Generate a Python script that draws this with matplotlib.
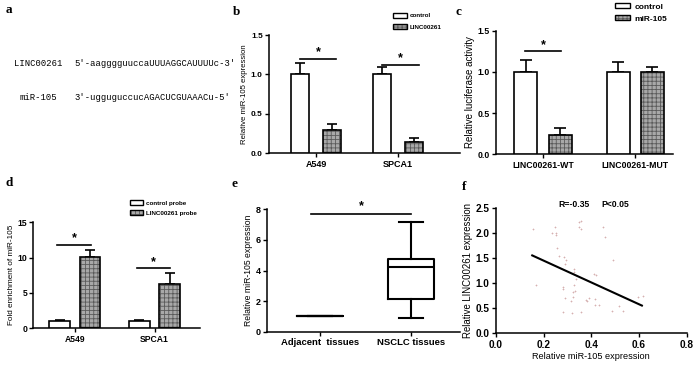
import numpy as np
import matplotlib
matplotlib.use("Agg")
import matplotlib.pyplot as plt
from matplotlib.patches import Patch
from matplotlib.legend_handler import HandlerTuple

plt.rcParams['font.family'] = ['Liberation Sans', 'DejaVu Sans']
plt.rcParams['font.weight'] = 'bold'
plt.rcParams['hatch.linewidth'] = 0.6

# ---- data ----
# panel a
seq_names = ['LINC00261', 'miR-105']
seq_texts = ["5'-aagggguuccaUUUAGGCAUUUUc-3'", "3'-ugguguccucAGACUCGUAAACu-5'"]

# panel b
b_groups = ['A549', 'SPCA1']
b_control = [1.0, 1.0]
b_control_err = [0.15, 0.09]
b_linc = [0.30, 0.14]
b_linc_err = [0.07, 0.05]
b_sig = [1.19, 1.12]

# panel c
c_groups = ['LINC00261-WT', 'LINC00261-MUT']
c_control = [1.0, 1.0]
c_control_err = [0.15, 0.12]
c_mir = [0.23, 1.0]
c_mir_err = [0.09, 0.06]
c_sig = [1.25, None]

# panel d
d_groups = ['A549', 'SPCA1']
d_control = [1.0, 1.0]
d_control_err = [0.12, 0.12]
d_linc = [10.1, 6.2]
d_linc_err = [1.0, 1.6]
d_sig = [11.8, 8.5]

# panel e
e_groups = ['Adjacent  tissues', 'NSCLC tissues']
e_whislo = [1.0, 0.9]
e_q1 = [1.0, 2.15]
e_med = [1.0, 4.25]
e_q3 = [1.0, 4.72]
e_whishi = [1.0, 7.2]
e_sig = 7.7

# panel f
f_x = [0.154, 0.168, 0.235, 0.246, 0.252, 0.250, 0.257, 0.263, 0.287, 0.294,
       0.291, 0.280, 0.283, 0.291, 0.283, 0.319, 0.316, 0.322, 0.325, 0.333,
       0.327, 0.327, 0.329, 0.336, 0.347, 0.355, 0.347, 0.355, 0.358, 0.378,
       0.380, 0.389, 0.411, 0.420, 0.417, 0.417, 0.430, 0.450, 0.456, 0.490,
       0.487, 0.517, 0.534, 0.596, 0.615]
f_y = [2.07, 0.955, 1.99, 2.11, 2.00, 1.96, 1.70, 1.54, 1.51, 1.46,
       1.38, 0.915, 0.875, 0.70, 0.43, 0.40, 0.64, 0.73, 0.82, 0.835,
       0.955, 1.27, 1.23, 1.09, 2.21, 2.24, 2.11, 2.08, 0.42, 0.66,
       0.64, 0.70, 1.18, 1.17, 0.68, 0.57, 0.57, 2.11, 1.91, 1.46,
       0.44, 0.54, 0.44, 0.73, 0.74]
f_fit_slope = -2.17
f_fit_intercept = 1.88
f_fit_range = [0.152, 0.612]

W, H = 695, 366
fig = plt.figure(figsize=(W / 100, H / 100), dpi=100)


def add_ax(left, top, right, bottom):
    return fig.add_axes([left / W, 1 - bottom / H, (right - left) / W, (bottom - top) / H])


def style(ax, fs=6):
    for s in ['top', 'right']:
        ax.spines[s].set_visible(False)
    for s in ['left', 'bottom']:
        ax.spines[s].set_linewidth(1.1)
    ax.tick_params(direction='out', length=3, width=1.0, labelsize=fs, pad=1.5)


GRAY = '#a8a8a8'
HATCH_C = '#5a5a5a'


def hatched_bar(ax, x, h, w):
    ax.bar(x, h, w, color=GRAY, edgecolor=HATCH_C, hatch='++++', linewidth=0, zorder=2)
    ax.bar(x, h, w, facecolor='none', edgecolor='black', linewidth=1.2, zorder=3)


def bars(ax, ctrl, ctrl_err, trt, trt_err, off, w, cap):
    x = np.arange(len(ctrl))
    ax.bar(x - off, ctrl, w, color='white', edgecolor='black', linewidth=1.2, zorder=3)
    hatched_bar(ax, x + off, trt, w)
    ax.errorbar(x - off, ctrl, yerr=[np.zeros(len(ctrl)), ctrl_err], fmt='none',
                ecolor='black', elinewidth=1.2, capsize=cap, capthick=1.2, zorder=1)
    ax.errorbar(x + off, trt, yerr=[np.zeros(len(trt)), trt_err], fmt='none',
                ecolor='black', elinewidth=1.2, capsize=cap, capthick=1.2, zorder=1)


def sig(ax, x0, x1, y, dy, fs=9):
    ax.plot([x0, x1], [y, y], color='black', lw=1.2, clip_on=False)
    ax.text((x0 + x1) / 2, y + dy, '*', ha='center', va='center', fontsize=fs)


def legend(handles, labels, x, y, fs, hl, hh, ls):
    fig.legend(handles, labels, loc='upper left', bbox_to_anchor=(x / W, 1 - y / H),
               bbox_transform=fig.transFigure, frameon=False, fontsize=fs,
               handlelength=hl, handleheight=hh, labelspacing=ls, handletextpad=0.5,
               borderpad=0, borderaxespad=0,
               handler_map={tuple: HandlerTuple(ndivide=1)})


def leg_handles():
    ctrl = Patch(facecolor='white', edgecolor='black', linewidth=1.0)
    trt = (Patch(facecolor=GRAY, edgecolor=HATCH_C, hatch='++++', linewidth=0),
           Patch(facecolor='none', edgecolor='black', linewidth=1.0))
    return [ctrl, trt]


# ---- panel a ----
for name, seq, yy, xx in zip(seq_names, seq_texts, [63, 97], [14, 20]):
    fig.text(xx / W, 1 - yy / H, name, family='Liberation Mono', fontweight='normal',
             fontsize=6.4, va='center')
    fig.text(74 / W, 1 - yy / H, seq, family='Liberation Mono', fontweight='normal',
             fontsize=6.4, va='center')

# ---- panel b ----
ax = add_ax(269, 35, 460, 153.3)
bars(ax, b_control, b_control_err, b_linc, b_linc_err, 0.2, 0.22, 3.5)
for i, y in enumerate(b_sig):
    sig(ax, i - 0.2, i + 0.25, y, 0.09)
ax.set_xlim(-0.573, 1.756)
ax.set_ylim(0, 1.5)
ax.set_yticks([0, 0.5, 1.0, 1.5])
ax.set_xticks(range(len(b_groups)))
ax.set_xticklabels(b_groups)
ax.set_ylabel('Relative miR-105 expression', fontsize=5.6, labelpad=2)
style(ax)
ax.tick_params(axis='x', labelsize=6.5)
legend(leg_handles(), ['control', 'LINC00261'], 393, 13, 4.5, 2.2, 0.75, 0.95)

# ---- panel c ----
ax = add_ax(496, 30.7, 673, 154.3)
bars(ax, c_control, c_control_err, c_mir, c_mir_err, 0.185, 0.25, 4)
for i, y in enumerate(c_sig):
    if y is not None:
        sig(ax, i - 0.2, i + 0.2, y, 0.08)
ax.set_xlim(-0.51, 1.41)
ax.set_ylim(0, 1.5)
ax.set_yticks([0, 0.5, 1.0, 1.5])
ax.set_xticks(range(len(c_groups)))
ax.set_xticklabels(c_groups)
ax.set_ylabel('Relative luciferase activity', fontsize=7.0, labelpad=2)
style(ax, 6.3)
legend(leg_handles(), ['control', 'miR-105'], 615, 3, 6, 1.8, 0.6, 0.55)

# ---- panel d ----
ax = add_ax(33.3, 222.3, 200, 328.3)
bars(ax, d_control, d_control_err, d_linc, d_linc_err, 0.19, 0.26, 3.5)
for i, y in enumerate(d_sig):
    sig(ax, i - 0.22, i + 0.2, y, 0.9)
ax.set_xlim(-0.52, 1.57)
ax.set_ylim(0, 15)
ax.set_yticks([0, 5, 10, 15])
ax.set_xticks(range(len(d_groups)))
ax.set_xticklabels(d_groups)
ax.set_ylabel('Fold enrichment of miR-105', fontsize=5.9, labelpad=2)
style(ax, 6.2)
legend(leg_handles(), ['control probe', 'LINC00261 probe'], 130, 200, 4.5, 2.0, 0.85, 0.67)

# ---- panel e ----
ax = add_ax(267.3, 209.3, 460, 331.7)
stats = [dict(whislo=a, q1=b, med=c, q3=d, whishi=e, fliers=[])
         for a, b, c, d, e in zip(e_whislo, e_q1, e_med, e_q3, e_whishi)]
lp = dict(color='black', linewidth=1.5)
ax.bxp(stats, positions=[0, 1], widths=0.5, capwidths=0.26, showfliers=False,
       boxprops=lp, whiskerprops=lp, capprops=lp, medianprops=lp)
sig(ax, -0.1, 1.0, e_sig, 0.5)
ax.set_xlim(-0.58, 1.54)
ax.set_ylim(0, 8)
ax.set_yticks([0, 2, 4, 6, 8])
ax.set_xticks([0, 1])
ax.set_xticklabels(e_groups)
ax.set_ylabel('Relative miR-105 expression', fontsize=6.2, labelpad=2)
style(ax, 6.5)
ax.tick_params(axis='x', labelsize=6.8)

# ---- panel f ----
ax = add_ax(496, 207.7, 686.7, 333.3)
ax.scatter(f_x, f_y, marker='+', s=4, color='#d6b0b0', linewidths=0.5)
fx = np.array(f_fit_range)
ax.plot(fx, f_fit_slope * fx + f_fit_intercept, color='black', lw=1.5)
ax.text(0.326, 2.56, 'R=-0.35', ha='center', va='center', fontsize=6.2)
ax.text(0.50, 2.56, 'P<0.05', ha='center', va='center', fontsize=6.2)
ax.set_xlim(0, 0.8)
ax.set_ylim(0, 2.5)
ax.set_xticks([0, 0.2, 0.4, 0.6, 0.8])
ax.set_yticks([0, 0.5, 1.0, 1.5, 2.0, 2.5])
ax.set_xlabel('Relative miR-105 expression', fontsize=6.6, labelpad=2)
ax.set_ylabel('Relative LINC00261 expression', fontsize=6.9, labelpad=2)
style(ax, 7.2)

# ---- panel letters ----
for lab, x, y in [('a', 9, 10), ('b', 237, 12), ('c', 458, 12),
                  ('d', 9, 183), ('e', 235, 184), ('f', 464, 187)]:
    fig.text(x / W, 1 - y / H, lab, family='Liberation Serif', fontsize=9.5,
             fontweight='bold', ha='center', va='center')

fig.savefig('out.png', dpi=100)
